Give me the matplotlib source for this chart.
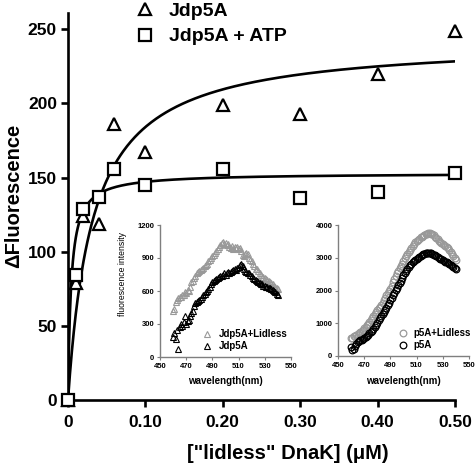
import numpy as np
import matplotlib
matplotlib.use("Agg")
import matplotlib.pyplot as plt

plt.rcParams['font.family'] = ['Liberation Sans', 'DejaVu Sans']

# ---------------- main data ----------------
conc = [0, 0.01, 0.02, 0.04, 0.06, 0.10, 0.20, 0.30, 0.40, 0.50]
jdp5a = [0, 79, 124, 119, 186, 167, 199, 193, 220, 249]
jdp5a_atp = [0, 84, 129, 137, 156, 145, 156, 136, 140, 153]
# hyperbolic fit parameters (Bmax, Kd)
fit_jdp5a = (243.0, 0.032)
fit_jdp5a_atp = (153.0, 0.004)
xticks_main = [0, 0.10, 0.20, 0.30, 0.40, 0.50]
xticklabels_main = ['0', '0.10', '0.20', '0.30', '0.40', '0.50']
yticks_main = [0, 50, 100, 150, 200, 250]

# ---------------- inset data ----------------
wl = list(range(460, 541))
jdp5a_lidless_spec = [420, 440, 500, 520, 540, 550, 545, 565, 560, 590, 580, 610, 600, 640, 680, 690,
                      720, 740, 760, 770, 780, 790, 800, 810, 830, 840, 850, 870, 880, 900, 920, 930,
                      950, 960, 980, 1000, 1020, 1040, 1050, 1030, 1040, 1020, 1030, 1000, 990, 1010,
                      980, 1000, 990, 1000, 980, 990, 960, 930, 920, 940, 950, 940, 900, 880, 870, 850,
                      830, 800, 800, 780, 760, 750, 730, 730, 720, 710, 700, 690, 680, 670, 660, 650,
                      640, 630, 620]
jdp5a_spec = [180, 220, 160, 250, 70, 270, 300, 280, 320, 370, 300, 330, 340, 370, 400, 420, 460, 490,
              500, 510, 520, 530, 545, 560, 575, 590, 600, 620, 640, 660, 680, 690, 700, 710, 720, 730,
              740, 735, 750, 760, 745, 760, 770, 760, 775, 780, 790, 800, 790, 810, 820, 840, 850, 830,
              800, 780, 770, 760, 760, 750, 740, 720, 710, 700, 690, 680, 670, 660, 660, 650, 650, 640,
              640, 630, 625, 620, 610, 600, 590, 575, 560]
p5a_lidless_spec = [540, 560, 600, 620, 640, 680, 700, 730, 760, 800, 850, 890, 940, 990, 1040, 1100,
                    1160, 1220, 1290, 1350, 1400, 1460, 1510, 1560, 1630, 1700, 1780, 1860, 1920, 1980,
                    2050, 2150, 2250, 2350, 2450, 2530, 2600, 2680, 2740, 2820, 2900, 2980, 3040, 3120,
                    3180, 3250, 3300, 3360, 3420, 3470, 3500, 3540, 3580, 3620, 3640, 3660, 3700, 3720,
                    3740, 3750, 3760, 3740, 3720, 3680, 3640, 3600, 3560, 3520, 3490, 3460, 3430, 3400,
                    3370, 3340, 3300, 3250, 3190, 3120, 3050, 2980, 2920]
p5a_spec = [280, 170, 220, 300, 380, 420, 450, 480, 500, 530, 560, 590, 620, 650, 690, 730, 770, 820,
            880, 950, 1020, 1090, 1160, 1220, 1280, 1340, 1400, 1480, 1560, 1630, 1700, 1780, 1860, 1930,
            2010, 2090, 2160, 2230, 2300, 2380, 2460, 2530, 2600, 2660, 2720, 2770, 2820, 2860, 2900,
            2940, 2970, 3000, 3030, 3060, 3080, 3100, 3120, 3130, 3140, 3150, 3150, 3130, 3110, 3090,
            3070, 3050, 3020, 2990, 2970, 2950, 2930, 2900, 2880, 2860, 2840, 2810, 2780, 2750, 2720,
            2690, 2650]
inset_xticks = [450, 470, 490, 510, 530, 550]
inset1_yticks = [0, 300, 600, 900, 1200]
inset2_yticks = [0, 1000, 2000, 3000, 4000]

W, H = 477, 470
fig = plt.figure(figsize=(W / 100, H / 100), dpi=100)

def frac(x0, y0, x1, y1):
    return [x0 / W, 1 - y1 / H, (x1 - x0) / W, (y1 - y0) / H]

ax = fig.add_axes(frac(68, 13, 455, 400))
xs = np.linspace(0, 0.5, 400)
for (bmax, kd) in (fit_jdp5a, fit_jdp5a_atp):
    ax.plot(xs, bmax * xs / (kd + xs), color='black', lw=1.9, zorder=2)
h1, = ax.plot(conc, jdp5a, ls='none', marker='^', ms=9, mfc='white', mec='black', mew=1.6,
              clip_on=False, zorder=3)
h2, = ax.plot(conc, jdp5a_atp, ls='none', marker='s', ms=8.5, mfc='white', mec='black', mew=1.6,
              clip_on=False, zorder=3)
ax.set_xlim(0, 0.5)
ax.set_ylim(0, 261)
for s in ['top', 'right']:
    ax.spines[s].set_visible(False)
for s in ['left', 'bottom']:
    ax.spines[s].set_linewidth(1.9)
ax.set_xticks(xticks_main)
ax.set_xticklabels(xticklabels_main)
ax.set_yticks(yticks_main)
ax.tick_params(width=1.9, length=5, labelsize=12.5)
ax.tick_params(axis='x', pad=6)
ax.tick_params(axis='y', pad=3)
for lab in ax.get_xticklabels() + ax.get_yticklabels():
    lab.set_fontweight('bold')
ax.set_xlabel('["lidless" DnaK] (μM)', fontsize=14.5, fontweight='bold')
ax.xaxis.set_label_coords((288 - 68) / (455 - 68), -(444 - 400) / (400 - 13))
ax.set_ylabel('ΔFluorescence', fontsize=14.5, fontweight='bold')
ax.yaxis.set_label_coords(-(68 - 23) / (455 - 68), (400 - 196) / (400 - 13))

fig.legend([h1, h2], ['Jdp5A', 'Jdp5A + ATP'], loc='upper left',
           bbox_to_anchor=(135 / W, 1 - 2 / H), frameon=False, prop={'weight': 'bold', 'size': 14},
           handlelength=1.0, handletextpad=0.75, labelspacing=0.42, borderpad=0, borderaxespad=0)

gray = '#999999'
spine_gray = '#7f7f7f'

def style_inset(a, yticks, xlim, ylim):
    a.set_xlim(*xlim)
    a.set_ylim(*ylim)
    a.set_xticks(inset_xticks)
    a.set_yticks(yticks)
    for s in ['top', 'right']:
        a.spines[s].set_visible(False)
    for s in ['left', 'bottom']:
        a.spines[s].set_color(spine_gray)
        a.spines[s].set_linewidth(1.0)
    a.tick_params(color=spine_gray, width=0.8, length=2.5, labelsize=5.5, pad=1.5)
    for lab in a.get_xticklabels() + a.get_yticklabels():
        lab.set_fontweight('bold')
    a.patch.set_alpha(0)

ax1 = fig.add_axes(frac(160, 225, 291, 357))
g1, = ax1.plot(wl, jdp5a_lidless_spec, ls='none', marker='^', ms=4.5, mfc='none', mec=gray, mew=0.8)
b1, = ax1.plot(wl, jdp5a_spec, ls='none', marker='^', ms=4.5, mfc='none', mec='black', mew=0.8)
style_inset(ax1, inset1_yticks, (450, 550), (0, 1200))
ax1.set_xlabel('wavelength(nm)', fontsize=7, fontweight='bold', labelpad=5)
ax1.set_ylabel('fluorescence intensity', fontsize=6.2)
ax1.yaxis.set_label_coords((127 - 160) / 131, (357 - 274) / 132)
fig.legend([g1, b1], ['Jdp5A+Lidless', 'Jdp5A'], loc='upper left', bbox_to_anchor=(202 / W, 1 - 329 / H),
           frameon=False, prop={'weight': 'bold', 'size': 7}, handlelength=1.0, handletextpad=0.75,
           labelspacing=0.25, borderpad=0, borderaxespad=0)

ax2 = fig.add_axes(frac(338, 225, 469, 356))
g2, = ax2.plot(wl, p5a_lidless_spec, ls='none', marker='o', ms=4.8, mfc='none', mec=gray, mew=0.9)
b2, = ax2.plot(wl, p5a_spec, ls='none', marker='o', ms=4.8, mfc='none', mec='black', mew=0.9)
style_inset(ax2, inset2_yticks, (450, 550), (0, 4000))
ax2.set_xlabel('wavelength(nm)', fontsize=7, fontweight='bold', labelpad=5)
fig.legend([g2, b2], ['p5A+Lidless', 'p5A'], loc='upper left', bbox_to_anchor=(398 / W, 1 - 328 / H),
           frameon=False, prop={'weight': 'bold', 'size': 7}, handlelength=1.0, handletextpad=0.55,
           labelspacing=0.25, borderpad=0, borderaxespad=0)

fig.savefig('out.png', dpi=100)
